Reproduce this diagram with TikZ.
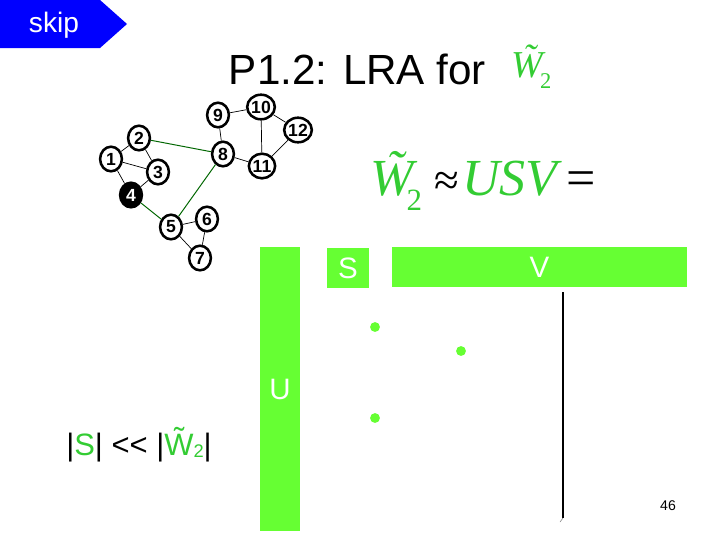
\documentclass[tikz,border=0pt]{standalone}
\usepackage{fontspec}
\setmainfont{Liberation Sans}
\newfontfamily\timesfont{Liberation Serif}
\usetikzlibrary{
  positioning,     % 节点相对定位
  shapes.geometric % 椭圆节点
}
\definecolor{boxgreen}{RGB}{102,255,51}
\definecolor{textgreen}{RGB}{51,204,51}
\definecolor{skipblue}{RGB}{0,0,255}
\tikzset{
  vertex/.style={
    ellipse,
    draw=black,
    line width=1.8pt,
    fill=white,
    inner sep=0pt,
    minimum width=15.5pt,
    minimum height=17.5pt,
    font=\fontsize{12.5}{12.5}\selectfont\bfseries
  },
  hub vertex/.style={
    vertex,
    fill=black,
    text=white
  },
  edge/.style={
    black,
    line width=0.5pt
  },
  cut edge/.style={
    green!40!black,
    line width=0.7pt
  },
  block/.style={
    fill=boxgreen,
    text=white,
    inner sep=0pt,
    font=\fontsize{21}{21}\selectfont
  },
  entry dot/.style={
    circle,
    fill=boxgreen,
    inner sep=0pt,
    minimum size=7pt
  }
}

\begin{document}
\begin{tikzpicture}[x=0.025cm, y=-0.025cm]
    \useasboundingbox (0,0) rectangle (720,540);

    % 1. skip 按钮
    \fill[skipblue] (0,0) -- (100,0) -- (127,24) -- (100,48) -- (0,48) -- cycle;
    \node[text=white, font=\fontsize{20}{20}\selectfont, anchor=base] (skip) at (54,32) {skip};

    % 2. 标题
    \node[anchor=base east, font=\fontsize{30}{30}\selectfont] (title) at (491,84) {P1.2: LRA for};
    \node[anchor=base west, text=textgreen, font=\timesfont\itshape\fontsize{27}{27}\selectfont, inner sep=0pt]
      (titleW) at (511,77) {\~{W}\kern-2pt\raisebox{-8pt}{\upshape\fontsize{16}{16}\selectfont 2}};

    % 3. 图: 节点
    \node[vertex] (n1) at (111,159) {1};
    \node[vertex] (n2) at (139,138) {2};
    \node[vertex] (n3) at (158,172) {3};
    \node[hub vertex] (n4) at (131,195) {4};
    \node[vertex] (n5) at (171,227) {5};
    \node[vertex] (n6) at (207,219) {6};
    \node[vertex] (n7) at (200,258) {7};
    \node[vertex] (n8) at (223,154) {8};
    \node[vertex] (n9) at (218,115) {9};
    \node[vertex] (n10) at (261,107) {10};
    \node[vertex] (n11) at (262,166) {11};
    \node[vertex] (n12) at (298,130) {12};

    % 边
    \draw[edge] (n1) -- (n2) (n1) -- (n3) (n1) -- (n4) (n2) -- (n3) (n3) -- (n4);
    \draw[edge] (n5) -- (n6) (n5) -- (n7) (n6) -- (n7);
    \draw[edge] (n8) -- (n9) (n8) -- (n11) (n9) -- (n10) (n10) -- (n11) (n10) -- (n12) (n11) -- (n12);
    % 社区之间的边
    \draw[cut edge] (n2) -- (n8) (n4) -- (n5) (n5) -- (n8);

    % 4. 近似公式
    \node[anchor=base west, inner sep=0pt, font=\timesfont\fontsize{37}{37}\selectfont] (approx) at (370,195)
      {{\color{textgreen}\itshape\~{W}\kern-5pt\raisebox{-11pt}{\upshape\fontsize{22}{22}\selectfont 2}}\kern9pt{\fontsize{32}{32}\selectfont ≈}\kern2pt{\color{textgreen}\itshape USV}\kern6pt=};

    % 5. U, S, V 块
    \node[block, minimum width=28.4pt, minimum height=201.3pt] (U) at (280,389) {U};
    \node[block, minimum width=29.8pt, minimum height=28.4pt] (S) at (348,268) {S};
    \node[block, minimum width=209.1pt, minimum height=28.4pt] (V) at (539.5,267) {V};

    % 奇异值
    \node[entry dot] (s1) at (375,327) {};
    \node[entry dot] (s2) at (461,351) {};
    \node[entry dot] (s3) at (375,418) {};

    % 竖线
    \draw[black, line width=0.8pt] (563,292) -- (563,518);
    \draw[gray, line width=0.4pt] (563,518) -- (560,522);

    % 6. 大小比较
    \node[anchor=base west, inner sep=0pt, font=\fontsize{22}{22}\selectfont] (compare) at (66,455)
      {|{\color{textgreen}S}| <{}< |{\color{textgreen}\~{W}\raisebox{-2pt}{\fontsize{13}{13}\selectfont 2}}|};

    % 页码
    \node[anchor=base, font=\fontsize{10}{10}\selectfont] (page) at (668,510) {46};

\end{tikzpicture}
\end{document}
